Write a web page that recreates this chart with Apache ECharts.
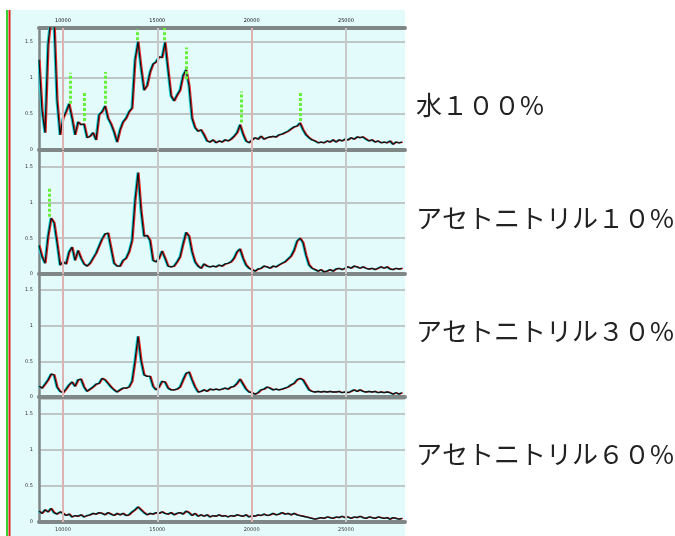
<!DOCTYPE html>
<html>
<head>
<meta charset="utf-8">
<script src="https://cdn.jsdelivr.net/npm/echarts@6/dist/echarts.min.js"></script>
<style>
  html, body { margin: 0; padding: 0; background: #ffffff; }
  #chart { width: 675px; height: 536px; }
</style>
</head>
<body>
<div id="chart"></div>
<script>
// Sampling grid of the spectra (x start and step along the horizontal axis)
const xStart = 8730;
const xStep = 159;

// Intensities, one array per solvent condition
const water100 = [
  1.25, 0.55, 0.24, 1.46, 1.85, 1.80, 0.69, 0.21, 0.44, 0.53,
  0.64, 0.44, 0.21, 0.39, 0.35, 0.36, 0.17, 0.19, 0.24, 0.14,
  0.49, 0.53, 0.61, 0.44, 0.36, 0.25, 0.11, 0.28, 0.39, 0.44,
  0.53, 0.58, 1.25, 1.50, 1.14, 0.83, 0.89, 1.08, 1.19, 1.22,
  1.29, 1.28, 1.49, 1.11, 0.75, 0.68, 0.76, 0.83, 1.03, 1.11,
  0.89, 0.44, 0.31, 0.26, 0.28, 0.21, 0.125, 0.11, 0.14, 0.10,
  0.125, 0.11, 0.14, 0.125, 0.15, 0.19, 0.24, 0.35, 0.22, 0.125,
  0.10, 0.14, 0.17, 0.15, 0.19, 0.15, 0.17, 0.18, 0.19, 0.18,
  0.21, 0.22, 0.24, 0.26, 0.29, 0.32, 0.33, 0.375, 0.28, 0.21,
  0.17, 0.14, 0.125, 0.10, 0.11, 0.10, 0.125, 0.11, 0.14, 0.11,
  0.14, 0.125, 0.15, 0.14, 0.17, 0.15, 0.18, 0.17, 0.18, 0.15,
  0.125, 0.14, 0.11, 0.125, 0.10, 0.11, 0.10, 0.125, 0.08, 0.11, 0.10, 0.11
];
const acn10 = [
  0.40, 0.24, 0.15, 0.53, 0.78, 0.72, 0.44, 0.125, 0.17, 0.14,
  0.31, 0.375, 0.19, 0.33, 0.22, 0.14, 0.11, 0.15, 0.22, 0.29,
  0.39, 0.49, 0.56, 0.57, 0.36, 0.15, 0.11, 0.11, 0.19, 0.22,
  0.31, 0.47, 1.03, 1.42, 0.89, 0.53, 0.54, 0.47, 0.19, 0.17,
  0.22, 0.32, 0.22, 0.11, 0.10, 0.11, 0.17, 0.24, 0.42, 0.58,
  0.53, 0.31, 0.17, 0.11, 0.08, 0.14, 0.11, 0.10, 0.11, 0.10,
  0.125, 0.11, 0.14, 0.15, 0.17, 0.22, 0.31, 0.35, 0.22, 0.125,
  0.08, 0.06, 0.04, 0.07, 0.08, 0.11, 0.10, 0.08, 0.11, 0.10,
  0.125, 0.15, 0.17, 0.21, 0.25, 0.33, 0.46, 0.50, 0.44, 0.26,
  0.125, 0.08, 0.06, 0.04, 0.06, 0.03, 0.04, 0.06, 0.04, 0.07,
  0.08, 0.06, 0.08, 0.10, 0.08, 0.11, 0.10, 0.08, 0.10, 0.08,
  0.07, 0.08, 0.06, 0.08, 0.10, 0.08, 0.10, 0.07, 0.06, 0.08, 0.07, 0.08
];
const acn30 = [
  0.15, 0.125, 0.18, 0.24, 0.32, 0.31, 0.14, 0.08, 0.06, 0.11,
  0.17, 0.21, 0.15, 0.24, 0.25, 0.14, 0.08, 0.11, 0.14, 0.18,
  0.19, 0.26, 0.24, 0.19, 0.14, 0.10, 0.07, 0.10, 0.125, 0.125,
  0.14, 0.22, 0.51, 0.85, 0.51, 0.31, 0.29, 0.29, 0.15, 0.10,
  0.14, 0.22, 0.21, 0.125, 0.10, 0.10, 0.11, 0.14, 0.24, 0.33,
  0.35, 0.24, 0.14, 0.07, 0.08, 0.10, 0.08, 0.11, 0.10, 0.11,
  0.10, 0.11, 0.125, 0.11, 0.14, 0.15, 0.19, 0.25, 0.18, 0.11,
  0.07, 0.06, 0.04, 0.06, 0.10, 0.11, 0.14, 0.125, 0.10, 0.11,
  0.10, 0.11, 0.125, 0.14, 0.17, 0.19, 0.24, 0.26, 0.24, 0.17,
  0.10, 0.08, 0.07, 0.08, 0.07, 0.08, 0.07, 0.08, 0.07, 0.07,
  0.08, 0.06, 0.07, 0.06, 0.08, 0.10, 0.08, 0.10, 0.08, 0.07,
  0.08, 0.07, 0.08, 0.06, 0.07, 0.06, 0.07, 0.06, 0.04, 0.06, 0.04, 0.06
];
const acn60 = [
  0.15, 0.12, 0.17, 0.14, 0.19, 0.13, 0.11, 0.14, 0.12, 0.09,
  0.11, 0.07, 0.09, 0.08, 0.10, 0.07, 0.09, 0.10, 0.12, 0.11,
  0.13, 0.12, 0.10, 0.13, 0.11, 0.09, 0.12, 0.10, 0.12, 0.09,
  0.10, 0.14, 0.17, 0.21, 0.17, 0.13, 0.10, 0.12, 0.11, 0.13,
  0.12, 0.14, 0.12, 0.11, 0.13, 0.10, 0.12, 0.13, 0.11, 0.15,
  0.13, 0.09, 0.12, 0.08, 0.10, 0.08, 0.10, 0.07, 0.09, 0.08,
  0.10, 0.08, 0.09, 0.07, 0.09, 0.08, 0.10, 0.09, 0.08, 0.10,
  0.07, 0.09, 0.08, 0.10, 0.09, 0.11, 0.09, 0.10, 0.12, 0.10,
  0.11, 0.13, 0.11, 0.12, 0.10, 0.12, 0.10, 0.09, 0.08, 0.07,
  0.06, 0.05, 0.04, 0.05, 0.06, 0.05, 0.07, 0.06, 0.05, 0.07,
  0.06, 0.08, 0.06, 0.07, 0.05, 0.07, 0.06, 0.08, 0.06, 0.05,
  0.07, 0.06, 0.05, 0.07, 0.06, 0.05, 0.06, 0.04, 0.06, 0.05, 0.04, 0.05
];

// Peak picks: [x, lower end, upper end] of the dotted marker above each peak
const peaksWater100 = [
  [10370, 0.64, 1.07], [11115, 0.40, 0.79], [12230, 0.64, 1.08],
  [13925, 1.52, 1.67], [15355, 1.52, 1.69], [16520, 0.98, 1.42],
  [19435, 0.38, 0.81], [22565, 0.40, 0.81]
];
const peaksAcn10 = [[9260, 0.80, 1.21]];
const peaksAcn30 = [];
const peaksAcn60 = [];

const panelLabels = ['水１００%', 'アセトニトリル１０%', 'アセトニトリル３０%', 'アセトニトリル６０%'];
const xGridValues = [10000, 15000, 20000, 25000];

const spectra = [water100, acn10, acn30, acn60];
const peakSets = [peaksWater100, peaksAcn10, peaksAcn30, peaksAcn60];

// Panel layout
const plotLeft = 39, plotRight = 405;
const panelTops = [28, 151, 275, 399];
const panelHeights = [122, 123, 122, 123];
const panelYMax = [1.69, 1.72, 1.71, 1.71];
const labelCenters = [106, 219, 332, 455];
const xMin = 8730, xMax = 28130;

const frameColor = '#7f8787';
const tickFont = { fontSize: 5, color: '#333', fontFamily: 'DejaVu Sans' };

const grids = [], xAxes = [], yAxes = [], series = [];

spectra.forEach((vals, p) => {
  grids.push({
    left: plotLeft, width: plotRight - plotLeft,
    top: panelTops[p], height: panelHeights[p],
    containLabel: false
  });
  xAxes.push({
    type: 'value', gridIndex: p, min: xMin, max: xMax, splitNumber: 4,
    axisLine: { show: true, onZero: false, lineStyle: { color: frameColor, width: 4 } },
    axisTick: { show: false },
    splitLine: { show: false },
    axisLabel: Object.assign({ show: p === 3, margin: 5, showMinLabel: false, showMaxLabel: false,
      formatter: v => String(v) }, tickFont)
  });
  yAxes.push({
    type: 'value', gridIndex: p, min: 0, max: panelYMax[p], interval: 0.5,
    axisLine: { show: true, lineStyle: { color: frameColor, width: 2.5 } },
    axisTick: { show: false },
    splitLine: { show: true, lineStyle: { color: '#bfc6c6', width: 2 } },
    axisLabel: Object.assign({ margin: 6, showMaxLabel: false }, tickFont)
  });

  const pts = vals.map((v, i) => [xStart + i * xStep, v]);

  // cyan fringe layer, also carrying the vertical reference lines
  series.push({
    type: 'line', xAxisIndex: p, yAxisIndex: p, data: pts,
    showSymbol: false, symbol: 'none', z: 1, animation: false, silent: true,
    lineStyle: { color: '#18d6dc', width: 1.2, shadowColor: '#20d8e0', shadowOffsetX: -1, shadowBlur: 0 },
    markLine: {
      silent: true, symbol: ['none', 'none'], animation: false, label: { show: false },
      data: xGridValues.map((v, k) => ({
        xAxis: v,
        lineStyle: { type: 'solid', width: 2, color: k % 2 === 0 ? '#dcb2b2' : '#c8c8c8' }
      }))
    }
  });

  // main trace with red fringe, plus the peak markers
  series.push({
    type: 'line', xAxisIndex: p, yAxisIndex: p, data: pts,
    showSymbol: false, symbol: 'none', z: 3, animation: false, silent: true,
    lineStyle: { color: '#141414', width: 1.3, shadowColor: '#e82626', shadowOffsetX: 1, shadowBlur: 0 },
    markLine: {
      silent: true, symbol: ['none', 'none'], animation: false, label: { show: false },
      lineStyle: { type: [3, 2], width: 3, color: '#66f03a' },
      data: peakSets[p].map(pk => [{ coord: [pk[0], pk[1]] }, { coord: [pk[0], pk[2]] }])
    }
  });
});

// top frame with its own labels on the first panel
xAxes.push({
  type: 'value', gridIndex: 0, position: 'top', min: xMin, max: xMax, splitNumber: 4,
  axisLine: { show: true, onZero: false, lineStyle: { color: frameColor, width: 4 } },
  axisTick: { show: false },
  splitLine: { show: false },
  axisLabel: Object.assign({ show: true, margin: 5, showMinLabel: false, showMaxLabel: false,
    formatter: v => String(v) }, tickFont, { color: '#111' })
});

const graphics = [
  { type: 'rect', z: -100, silent: true, shape: { x: 10, y: 10, width: 395, height: 526 }, style: { fill: '#e4fbfb' } },
  { type: 'rect', z: 100, silent: true, shape: { x: 6, y: 10, width: 2, height: 526 }, style: { fill: '#33d433' } },
  { type: 'rect', z: 100, silent: true, shape: { x: 8.5, y: 10, width: 2, height: 526 }, style: { fill: '#e02222' } }
];
panelLabels.forEach((t, p) => {
  graphics.push({
    type: 'text', silent: true, left: 416, top: labelCenters[p] - 14,
    style: { text: t, fill: '#222', font: '26px "Noto Sans CJK JP"', textVerticalAlign: 'top' }
  });
});

const chart = echarts.init(document.getElementById('chart'), null, { renderer: 'canvas' });
chart.setOption({
  backgroundColor: '#ffffff',
  animation: false,
  grid: grids,
  xAxis: xAxes,
  yAxis: yAxes,
  series: series,
  graphic: graphics
});
</script>
</body>
</html>
